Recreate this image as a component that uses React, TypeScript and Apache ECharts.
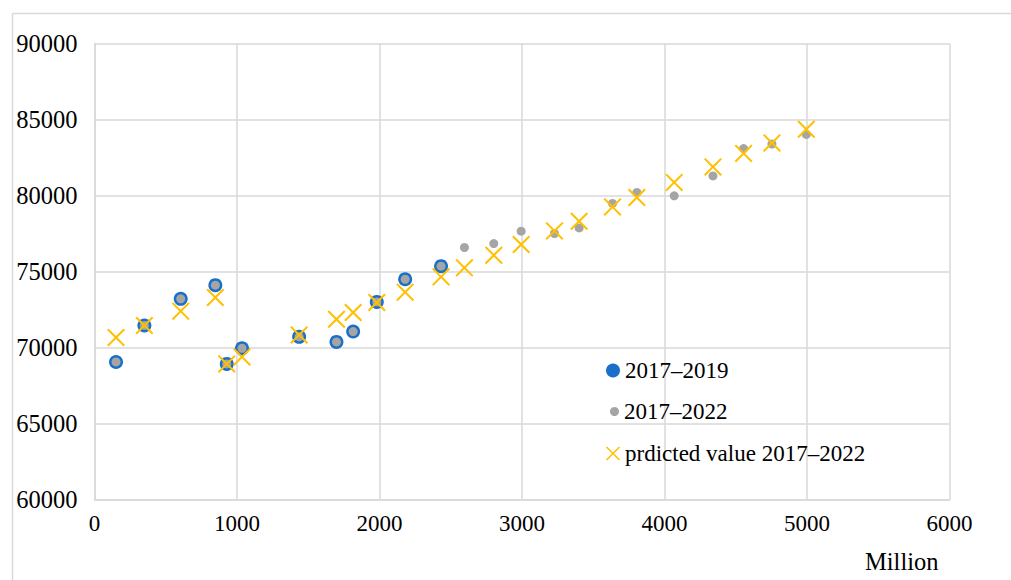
import { useEffect, useRef } from "react";
import * as echarts from "echarts";

// X values (Million)
const xMillion = [151, 350, 605, 848, 928, 1035, 1436, 1698, 1815, 1981, 2180, 2432, 2596, 2802, 2994, 3228, 3401, 3635, 3806, 4068, 4340, 4555, 4754, 4995];
// 2017–2019 observed (first 12 points)
const values2017_2019 = [69050, 71450, 73200, 74100, 68920, 69950, 70700, 70370, 71050, 73000, 74490, 75350];
// 2017–2022 observed
const values2017_2022 = [69050, 71450, 73200, 74100, 68920, 69950, 70700, 70370, 71050, 73000, 74490, 75350, 76580, 76840, 77650, 77500, 77870, 79480, 80200, 79980, 81290, 83090, 83380, 84020];
// predicted 2017–2022
const predicted2017_2022 = [70660, 71450, 72390, 73290, 68920, 69380, 70830, 71860, 72300, 72960, 73640, 74650, 75240, 76070, 76780, 77670, 78310, 79250, 79870, 80860, 81880, 82770, 83460, 84360];

const xAxisRange = { min: 0, max: 6000, interval: 1000 };
const yAxisRange = { min: 60000, max: 90000, interval: 5000 };

const seriesNames = ["2017–2019", "2017–2022", "prdicted value 2017–2022"];
const xAxisTitle = "Million";

const FONT = "Liberation Serif";
const BLUE = "#1a70c8";
const GRAY = "#a5a5a5";
const YELLOW = "#ffc000";
const GRID = "#d9d9d9";
const X_PATH = "path://M8,0 L50,42 L92,0 L100,8 L58,50 L100,92 L92,100 L50,58 L8,100 L0,92 L42,50 L0,8 Z";

export default function App() {
  const ref = useRef<HTMLDivElement>(null);
  useEffect(() => {
    if (!ref.current) return;
    const chart = echarts.init(ref.current, undefined, { renderer: "svg" });
    const pairs = (ys: number[]) => ys.map((y, i) => [xMillion[i], y]);
    const legendText = { fontFamily: FONT, fontSize: 23, color: "#000", lineHeight: 22 };
    chart.setOption({
      animation: false,
      backgroundColor: "#fff",
      textStyle: { fontFamily: FONT },
      grid: { left: 94.5, right: 61.5, top: 43.5, bottom: 80.5, containLabel: false },
      xAxis: {
        type: "value",
        min: xAxisRange.min,
        max: xAxisRange.max,
        interval: xAxisRange.interval,
        axisLine: { show: true, lineStyle: { color: GRID, width: 1.5 } },
        axisTick: { show: false },
        splitLine: { show: true, lineStyle: { color: GRID, width: 1.5 } },
        axisLabel: {
          fontFamily: FONT, fontSize: 23, color: "#000", margin: 12,
          formatter: (v: number) => String(v),
        },
      },
      yAxis: {
        type: "value",
        min: yAxisRange.min,
        max: yAxisRange.max,
        interval: yAxisRange.interval,
        axisLine: { show: true, lineStyle: { color: GRID, width: 1.5 } },
        axisTick: { show: false },
        splitLine: { show: true, lineStyle: { color: GRID, width: 1.5 } },
        axisLabel: {
          fontFamily: FONT, fontSize: 24.5, color: "#000", margin: 17,
          formatter: (v: number) => String(v),
        },
      },
      legend: [
        {
          data: [{ name: seriesNames[0], icon: "circle" }],
          left: 606, top: 359, padding: 0, itemWidth: 14, itemHeight: 14,
          textStyle: legendText, selectedMode: false,
        },
        {
          data: [{ name: seriesNames[1], icon: "circle" }],
          left: 610, top: 400, padding: 0, itemWidth: 9, itemHeight: 9,
          textStyle: legendText, selectedMode: false,
        },
        {
          data: [{ name: seriesNames[2], icon: X_PATH }],
          left: 606, top: 442, padding: 0, itemWidth: 14, itemHeight: 14,
          textStyle: legendText, selectedMode: false,
        },
      ],
      graphic: [
        { type: "line", shape: { x1: 12.5, y1: 13.5, x2: 1011, y2: 13.5 }, style: { stroke: GRID, lineWidth: 1.5 } },
        { type: "line", shape: { x1: 12.5, y1: 13.5, x2: 12.5, y2: 580 }, style: { stroke: GRID, lineWidth: 1.5 } },
        {
          type: "text", left: 865, top: 549,
          style: { text: xAxisTitle, fontFamily: FONT, fontSize: 24.5, fill: "#000" },
        },
      ],
      series: [
        {
          name: seriesNames[0], type: "scatter", symbol: "circle", symbolSize: 14,
          itemStyle: { color: BLUE, opacity: 1 }, data: pairs(values2017_2019), z: 2,
        },
        {
          name: seriesNames[1], type: "scatter", symbol: "circle", symbolSize: 9,
          itemStyle: { color: GRAY, opacity: 1 }, data: pairs(values2017_2022), z: 3,
        },
        {
          name: seriesNames[2], type: "scatter", symbol: X_PATH, symbolSize: 18,
          itemStyle: { color: YELLOW, opacity: 1 }, data: pairs(predicted2017_2022), z: 4,
        },
      ],
    });
    return () => chart.dispose();
  }, []);
  return <div ref={ref} style={{ position: "fixed", left: 0, top: 0, width: 1011, height: 580 }} />;
}
